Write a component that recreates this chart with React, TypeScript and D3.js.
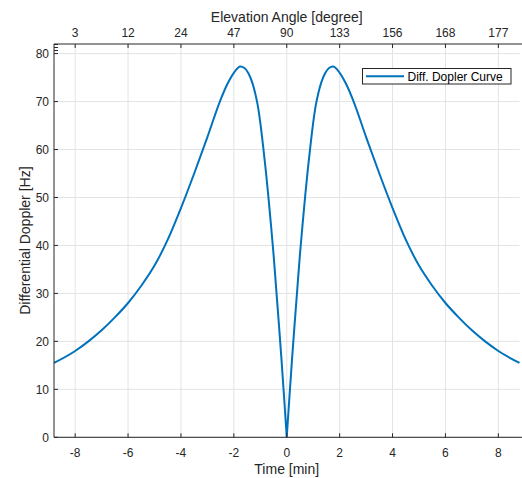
import React from "react";
import * as d3 from "d3";

const timeMin: number[] = [
  -8.8, -8.0, -7.5, -7.0, -6.5, -6.0, -5.5, -5.0, -4.5, -4.0, -3.5, -3.0, -2.5, -2.25, -2.0,
  -1.75, -1.6, -1.45, -1.3, -1.2, -1.1, -1.0, -0.9, -0.8, -0.7, -0.6, -0.5, -0.4, -0.3, -0.2, -0.1, 0,
  0.1, 0.2, 0.3, 0.4, 0.5, 0.6, 0.7, 0.8, 0.9, 1.0, 1.1, 1.2, 1.3, 1.45, 1.6, 1.75,
  2.0, 2.25, 2.5, 3.0, 3.5, 4.0, 4.5, 5.0, 5.5, 6.0, 6.5, 7.0, 7.5, 8.0, 8.8,
];
const diffDoppler: number[] = [
  15.5, 18.0, 20.0, 22.3, 25.0, 28.0, 31.6, 35.8, 41.2, 47.8, 55.0, 62.6, 70.4, 73.6, 76.0,
  77.3, 77.0, 75.9, 73.9, 71.9, 69.3, 65.6, 61.0, 56.0, 50.5, 44.5, 38.2, 31.0, 23.8, 16.3, 8.3, 0,
  8.3, 16.3, 23.8, 31.0, 38.2, 44.5, 50.5, 56.0, 61.0, 65.6, 69.3, 71.9, 73.9, 75.9, 77.0, 77.3,
  76.0, 73.6, 70.4, 62.6, 55.0, 47.8, 41.2, 35.8, 31.6, 28.0, 25.0, 22.3, 20.0, 18.0, 15.5,
];
const xTicks: number[] = [-8, -6, -4, -2, 0, 2, 4, 6, 8];
const yTicks: number[] = [0, 10, 20, 30, 40, 50, 60, 70, 80];
const elevationLabels: string[] = ["3", "12", "24", "47", "90", "133", "156", "168", "177"];

export default function App() {
  const W = 522, H = 478;
  const left = 54, right = 519.5, top = 44, bottom = 437.3;
  const x = d3.scaleLinear().domain([-8.8, 8.8]).range([left, right]);
  const y = d3.scaleLinear().domain([0, 82]).range([bottom, top]);
  const pts = timeMin.map((t, i) => [t, diffDoppler[i]] as [number, number]);
  const leftBranch = pts.filter(p => p[0] <= 0);
  const rightBranch = pts.filter(p => p[0] >= 0);
  const line = d3.line<[number, number]>().x(d => x(d[0])).y(d => y(d[1])).curve(d3.curveMonotoneX);
  const font = "Liberation Sans, Arial, Helvetica, sans-serif";
  const axisCol = "#262626";
  return (
    <svg width={W} height={H} style={{ position: "absolute", left: 0, top: 0, background: "#fff" }} fontFamily={font}>
      <rect x={0} y={0} width={W} height={H} fill="#fff" />
      {xTicks.map(t => (
        <line key={"gx" + t} x1={x(t)} x2={x(t)} y1={top} y2={bottom} stroke="#e3e3e3" strokeWidth={1} />
      ))}
      {yTicks.map(t => (
        <line key={"gy" + t} x1={left} x2={right} y1={y(t)} y2={y(t)} stroke="#e3e3e3" strokeWidth={1} />
      ))}
      <path d={(line(leftBranch) || "") + (line(rightBranch) || "")} fill="none" stroke="#0072BD" strokeWidth={2} strokeLinejoin="miter" />
      <line x1={left} x2={W} y1={bottom} y2={bottom} stroke={axisCol} strokeWidth={1} />
      <line x1={left} x2={W} y1={top} y2={top} stroke={axisCol} strokeWidth={1} />
      <line x1={left} x2={left} y1={top} y2={bottom} stroke={axisCol} strokeWidth={1} />
      {[44.5, 47.5, 50.5].map(v => (
        <line key={"mt" + v} x1={left} x2={left + 4} y1={v} y2={v} stroke={axisCol} strokeWidth={1} />
      ))}
      {xTicks.map(t => (
        <g key={"xt" + t}>
          <line x1={x(t)} x2={x(t)} y1={bottom} y2={bottom - 4} stroke={axisCol} />
          <line x1={x(t)} x2={x(t)} y1={top} y2={top + 4} stroke={axisCol} />
          <text x={x(t)} y={456.5} textAnchor="middle" fontSize={12} fill={axisCol}>{t}</text>
        </g>
      ))}
      {xTicks.map((t, i) => (
        <text key={"el" + t} x={x(t)} y={36.5} textAnchor="middle" fontSize={12} fill={axisCol}>{elevationLabels[i]}</text>
      ))}
      {yTicks.map(t => (
        <g key={"yt" + t}>
          <line x1={left} x2={left + 4} y1={y(t)} y2={y(t)} stroke={axisCol} />
          <text x={49} y={y(t) + 4.3} textAnchor="end" fontSize={12} fill={axisCol}>{t}</text>
        </g>
      ))}
      <text x={x(0)} y={474} textAnchor="middle" fontSize={14} fill={axisCol}>Time [min]</text>
      <text x={x(0)} y={21.7} textAnchor="middle" fontSize={14} fill={axisCol}>Elevation Angle [degree]</text>
      <text transform={`translate(30, ${(top + bottom) / 2}) rotate(-90)`} textAnchor="middle" fontSize={14} fill={axisCol}>Differential Doppler [Hz]</text>
      <rect x={362.5} y={68.5} width={148.5} height={15.5} fill="#fff" stroke={axisCol} strokeWidth={1} />
      <line x1={366} x2={404} y1={76.3} y2={76.3} stroke="#0072BD" strokeWidth={2} />
      <text x={407.5} y={80.5} fontSize={12} fill="#000">Diff. Dopler Curve</text>
    </svg>
  );
}
